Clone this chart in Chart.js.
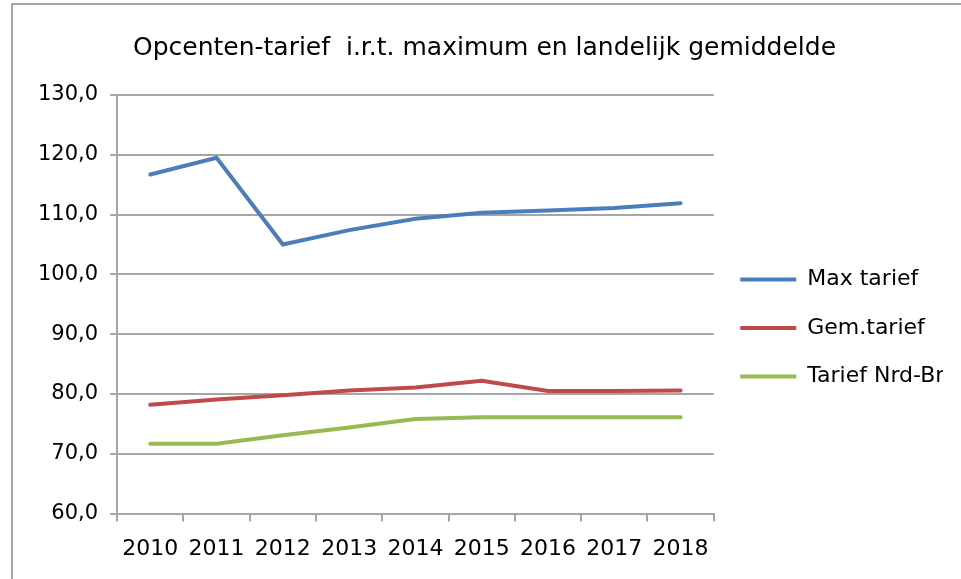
<!DOCTYPE html>
<html>
<head>
<meta charset="utf-8">
<script src="https://cdn.jsdelivr.net/npm/chart.js@4/dist/chart.umd.min.js"></script>
<style>
  html, body { margin: 0; padding: 0; background: #fff; }
  #wrap { position: relative; width: 961px; height: 579px; overflow: hidden; }
  #frame { position: absolute; left: 11px; top: 3px; width: 980px; height: 600px;
           border-left: 2px solid #a6a6a6; border-top: 2px solid #a6a6a6; }
  canvas { position: absolute; left: 0; top: 0; }
</style>
</head>
<body>
<div id="wrap">
  <div id="frame"></div>
  <canvas id="c" width="961" height="579"></canvas>
</div>
<script>
const categories = ['2010','2011','2012','2013','2014','2015','2016','2017','2018'];
const maxTarief = [116.7, 119.5, 105.0, 107.4, 109.3, 110.3, 110.7, 111.1, 111.9];
const gemTarief = [78.2, 79.1, 79.8, 80.6, 81.1, 82.2, 80.5, 80.5, 80.6];
const tariefNrdBr = [71.7, 71.7, 73.1, 74.4, 75.8, 76.1, 76.1, 76.1, 76.1];
const seriesNames = ['Max tarief', 'Gem.tarief', 'Tarief Nrd-Br'];
const titleText = 'Opcenten-tarief  i.r.t. maximum en landelijk gemiddelde';

const FONT = "'DejaVu Sans', sans-serif";
const gridGray = '#a6a6a6';

new Chart(document.getElementById('c'), {
  type: 'line',
  data: {
    labels: categories,
    datasets: [
      { label: seriesNames[0], data: maxTarief, borderColor: '#4a7ebb', backgroundColor: '#4a7ebb' },
      { label: seriesNames[1], data: gemTarief, borderColor: '#be4b48', backgroundColor: '#be4b48' },
      { label: seriesNames[2], data: tariefNrdBr, borderColor: '#98b954', backgroundColor: '#98b954' }
    ].map(d => Object.assign(d, { borderWidth: 4, pointRadius: 0, tension: 0, fill: false, borderCapStyle: 'round' }))
  },
  options: {
    responsive: false,
    animation: false,
    layout: { padding: { left: 26, right: 18, top: 0, bottom: 3 } },
    plugins: {
      title: {
        display: true, text: titleText, color: '#000',
        font: { family: FONT, size: 25, weight: 'normal' },
        padding: { top: 33, bottom: 32 }
      },
      legend: {
        position: 'right',
        title: { display: true, text: ' ', font: { size: 10 }, padding: { top: 34, bottom: 34 } },
        labels: {
          color: '#000',
          font: { family: FONT, size: 22 },
          usePointStyle: true, pointStyle: 'line', pointStyleWidth: 56,
          padding: 26.5
        }
      },
      tooltip: { enabled: false }
    },
    scales: {
      x: {
        offset: true,
        grid: { offset: true, drawOnChartArea: false, drawTicks: true, tickLength: 8, color: gridGray, lineWidth: 2 },
        border: { color: gridGray, width: 2 },
        ticks: { color: '#000', font: { family: FONT, size: 22 }, padding: 14, maxRotation: 0 }
      },
      y: {
        min: 60, max: 130,
        grid: { color: gridGray, lineWidth: 2, tickLength: 7 },
        border: { color: gridGray, width: 2 },
        ticks: {
          stepSize: 10, color: '#000', font: { family: FONT, size: 21 }, padding: 12,
          callback: v => v.toFixed(1).replace('.', ',')
        }
      }
    }
  }
});
</script>
</body>
</html>
